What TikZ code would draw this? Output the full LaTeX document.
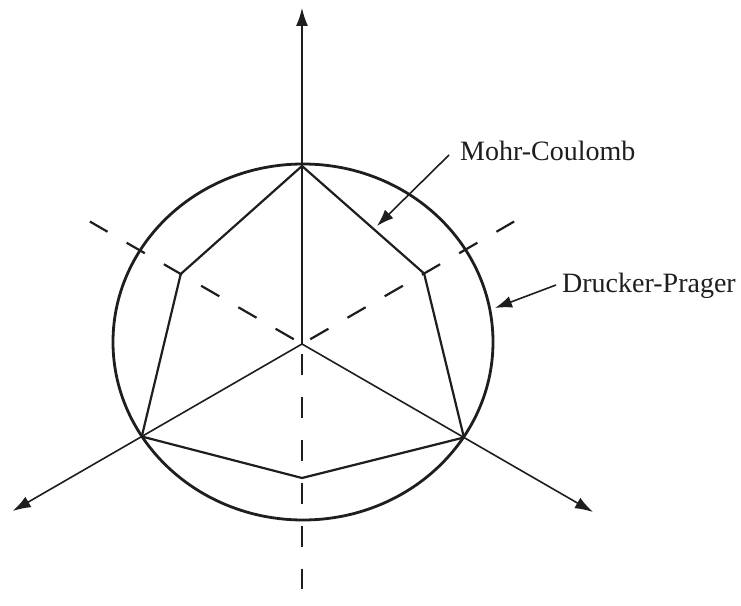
\documentclass[tikz,border=0pt]{standalone}
\usepackage{fontspec}
\setmainfont{Liberation Serif}
\usepackage{tikz}
\usetikzlibrary{arrows.meta}
\definecolor{myink}{RGB}{30,30,30}
\tikzstyle{axis} = [draw, line width=1.6pt, -{Latex[length=18pt,width=12pt]}]

\begin{document}
\begin{tikzpicture}[x=1pt, y=1pt, color=myink,
    mohr/.style={line width=2.2pt, line join=miter},
    hidden/.style={line width=2.2pt, dash pattern=on 21pt off 22pt},
    lbl/.style={font=\fontsize{28}{34}\selectfont, inner sep=0pt, anchor=base west},
    pointer/.style={line width=1.6pt, -{Latex[length=17pt,width=12pt]}}]
    \useasboundingbox (-302,-261) rectangle (439,344);
    \coordinate (O) at (0,0);
    %Ecken
    \coordinate (A1) at (90:178);
    \coordinate (A2) at (210:185);
    \coordinate (A3) at (330:187);
    \coordinate (B1) at (30:141);
    \coordinate (B2) at (150:140);
    \coordinate (B3) at (270:134);
    %Achsen
    \coordinate (X1) at (90:336);
    \coordinate (X2) at (210:334);
    \coordinate (X3) at (330:336);
    \draw[axis] (O) -- (X1);
    \draw[axis] (O) -- (X2);
    \draw[axis] (O) -- (X3);
    \foreach \a in {30,150,270}
        \draw[hidden] (\a:9.5) -- (\a:245);
    \draw[line width=2.8pt] (1,2) ellipse [x radius=190, y radius=178];
    \draw[mohr] (A1) -- (B1) -- (A3) -- (B3) -- (A2) -- (B2) -- cycle;
    %Beschriftung
    \node[lbl] (mc) at (158,183) {Mohr-Coulomb};
    \node[lbl] (dp) at (260,52) {Drucker-Prager};
    \coordinate (mctip) at (75,118);
    \coordinate (dptip) at (193,36);
    \draw[pointer] ([xshift=-11pt,yshift=6pt]mc.base west) -- (mctip);
    \draw[pointer] ([xshift=-6pt,yshift=7pt]dp.base west) -- (dptip);
\end{tikzpicture}
\end{document}
